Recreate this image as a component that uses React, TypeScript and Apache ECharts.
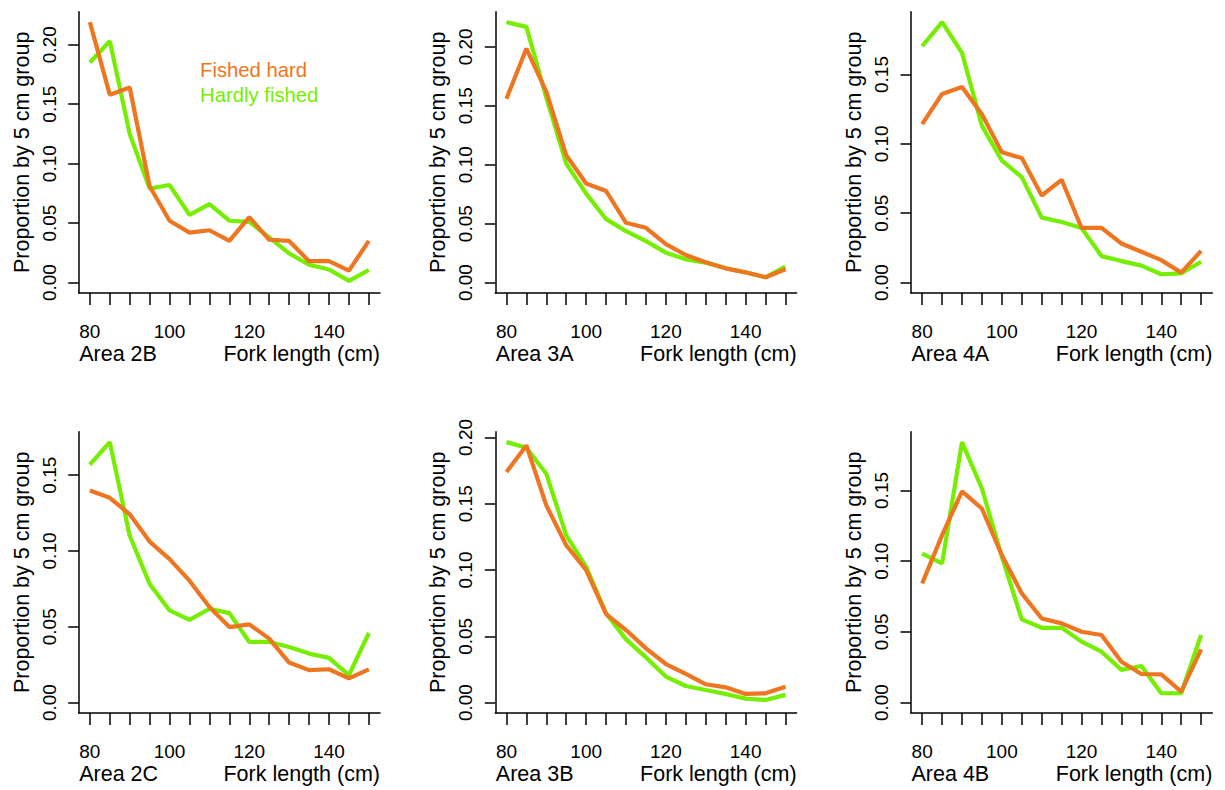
import React, { useEffect, useRef } from "react";
import * as echarts from "echarts";

const forkLengths = [80, 85, 90, 95, 100, 105, 110, 115, 120, 125, 130, 135, 140, 145, 150];
const xTickValues = [80, 85, 90, 95, 100, 105, 110, 115, 120, 125, 130, 135, 140, 145, 150];
const xLabelValues = [80, 100, 120, 140];
const yTicksHigh = [0, 0.05, 0.1, 0.15, 0.2];
const yTicksLow = [0, 0.05, 0.1, 0.15];

const areaNames = ["Area 2B", "Area 3A", "Area 4A", "Area 2C", "Area 3B", "Area 4B"];

const fishedHard2B = [0.219, 0.158, 0.164, 0.081, 0.052, 0.042, 0.044, 0.035, 0.055, 0.036, 0.035, 0.018, 0.018, 0.010, 0.035];
const hardlyFished2B = [0.185, 0.203, 0.125, 0.079, 0.082, 0.057, 0.066, 0.052, 0.051, 0.038, 0.0245, 0.015, 0.011, 0.0014, 0.0106];

const fishedHard3A = [0.156, 0.1986, 0.162, 0.108, 0.084, 0.0777, 0.0507, 0.0465, 0.0327, 0.0234, 0.0172, 0.0121, 0.0087, 0.0045, 0.0113];
const hardlyFished3A = [0.221, 0.217, 0.157, 0.101, 0.0755, 0.0538, 0.0437, 0.0352, 0.0254, 0.0197, 0.0169, 0.0121, 0.0085, 0.0045, 0.0135];

const fishedHard4A = [0.1142, 0.136, 0.141, 0.1214, 0.0939, 0.0898, 0.0628, 0.0741, 0.0394, 0.0394, 0.0282, 0.0222, 0.0162, 0.0072, 0.0229];
const hardlyFished4A = [0.1704, 0.1878, 0.1656, 0.113, 0.0879, 0.076, 0.0468, 0.0437, 0.0394, 0.0191, 0.0155, 0.0122, 0.006, 0.0067, 0.015];

const fishedHard2C = [0.1399, 0.1351, 0.1242, 0.1062, 0.0946, 0.0804, 0.063, 0.0498, 0.0516, 0.0422, 0.0264, 0.0214, 0.022, 0.016, 0.0219];
const hardlyFished2C = [0.157, 0.1718, 0.11, 0.0783, 0.0608, 0.0546, 0.0619, 0.059, 0.04, 0.04, 0.0367, 0.0323, 0.0295, 0.0181, 0.0459];

const fishedHard3B = [0.1739, 0.194, 0.1488, 0.1187, 0.0999, 0.0668, 0.0547, 0.0409, 0.0291, 0.0216, 0.0138, 0.0115, 0.0065, 0.007, 0.012];
const hardlyFished3B = [0.1965, 0.1922, 0.1726, 0.1262, 0.1024, 0.0673, 0.0477, 0.0341, 0.0196, 0.0125, 0.0095, 0.0065, 0.003, 0.002, 0.0058];

const fishedHard4B = [0.0842, 0.1184, 0.1494, 0.1372, 0.1042, 0.0772, 0.0595, 0.056, 0.0501, 0.0478, 0.0289, 0.0202, 0.02, 0.0078, 0.0376];
const hardlyFished4B = [0.1054, 0.0984, 0.1842, 0.1513, 0.103, 0.0588, 0.0529, 0.0529, 0.0431, 0.036, 0.0231, 0.0259, 0.0066, 0.0066, 0.0478];

const fishedHardSeries = [fishedHard2B, fishedHard3A, fishedHard4A, fishedHard2C, fishedHard3B, fishedHard4B];
const hardlyFishedSeries = [hardlyFished2B, hardlyFished3A, hardlyFished4A, hardlyFished2C, hardlyFished3B, hardlyFished4B];
const yTickSets = [yTicksHigh, yTicksHigh, yTicksLow, yTicksLow, yTicksHigh, yTicksLow];

const ORANGE = "#EE7621";
const GREEN = "#76EE00";
const FONT = "Liberation Sans, Arial, Helvetica, sans-serif";

const colLefts = [78.7, 495.3, 911];
const rowTops = [11.7, 431.7];
const boxW = 301.3;
const boxH = 281.3;

export default function App() {
  const ref = useRef<HTMLDivElement>(null);
  useEffect(() => {
    if (!ref.current) return;
    const chart = echarts.init(ref.current, null, { renderer: "svg" });
    const grids: any[] = [];
    const xAxes: any[] = [];
    const yAxes: any[] = [];
    const series: any[] = [];
    const graphics: any[] = [];
    for (let i = 0; i < 6; i++) {
      const col = i % 3;
      const row = Math.floor(i / 3);
      const left = colLefts[col];
      const top = rowTops[row];
      grids.push({ left, top, width: boxW, height: boxH, containLabel: false });
      const xMin = forkLengths[0];
      const xMax = forkLengths[forkLengths.length - 1];
      const xPad = (xMax - xMin) * 0.04;
      xAxes.push({
        type: "value",
        gridIndex: i,
        min: xMin - xPad,
        max: xMax + xPad,
        position: "bottom",
        axisLine: { show: true, onZero: false, lineStyle: { color: "#000", width: 1.5 } },
        axisTick: { show: true, length: 12, customValues: xTickValues, lineStyle: { color: "#000", width: 1.5 } },
        axisLabel: {
          show: true,
          customValues: xLabelValues,
          margin: 29,
          fontSize: 19,
          fontFamily: FONT,
          color: "#000",
        },
        splitLine: { show: false },
      });
      const all = fishedHardSeries[i].concat(hardlyFishedSeries[i]);
      const yMaxData = Math.max(...all);
      const yPad = yMaxData * 0.04;
      yAxes.push({
        type: "value",
        gridIndex: i,
        min: -yPad,
        max: yMaxData + yPad,
        axisLine: { show: true, onZero: false, lineStyle: { color: "#000", width: 1.5 } },
        axisTick: { show: true, length: 10.5, customValues: yTickSets[i], lineStyle: { color: "#000", width: 1.5 } },
        axisLabel: {
          show: true,
          customValues: yTickSets[i],
          rotate: 90,
          margin: 20,
          fontSize: 19,
          fontFamily: FONT,
          color: "#000",
          formatter: (v: number) => v.toFixed(2),
        },
        splitLine: { show: false },
        name: "Proportion by 5 cm group",
        nameLocation: "middle",
        nameRotate: 90,
        nameGap: 46,
        nameTextStyle: { fontSize: 21.5, fontFamily: FONT, color: "#000" },
      });
      series.push({
        type: "line",
        name: "Hardly fished",
        xAxisIndex: i,
        yAxisIndex: i,
        data: forkLengths.map((x, k) => [x, hardlyFishedSeries[i][k]]),
        showSymbol: false,
        lineStyle: { color: GREEN, width: 4.2 },
        itemStyle: { color: GREEN },
        silent: true,
      });
      series.push({
        type: "line",
        name: "Fished hard",
        xAxisIndex: i,
        yAxisIndex: i,
        data: forkLengths.map((x, k) => [x, fishedHardSeries[i][k]]),
        showSymbol: false,
        lineStyle: { color: ORANGE, width: 4.2 },
        itemStyle: { color: ORANGE },
        silent: true,
      });
      const textY = top + 342.3;
      graphics.push({
        type: "text",
        x: left + 0.5,
        y: textY,
        style: { text: areaNames[i], fontSize: 21.5, fontFamily: FONT, fill: "#000", textAlign: "left", textVerticalAlign: "middle" },
      });
      graphics.push({
        type: "text",
        x: left + boxW,
        y: textY,
        style: { text: "Fork length (cm)", fontSize: 21.5, fontFamily: FONT, fill: "#000", textAlign: "right", textVerticalAlign: "middle" },
      });
    }
    graphics.push({
      type: "text",
      x: 200,
      y: 70,
      style: { text: "Fished hard", fontSize: 20.3, fontFamily: FONT, fill: ORANGE, textAlign: "left", textVerticalAlign: "middle" },
    });
    graphics.push({
      type: "text",
      x: 200,
      y: 94.5,
      style: { text: "Hardly fished", fontSize: 20.3, fontFamily: FONT, fill: GREEN, textAlign: "left", textVerticalAlign: "middle" },
    });
    chart.setOption({
      animation: false,
      backgroundColor: "#fff",
      grid: grids,
      xAxis: xAxes,
      yAxis: yAxes,
      series,
      graphic: graphics,
    });
    return () => chart.dispose();
  }, []);
  return <div ref={ref} style={{ position: "fixed", left: 0, top: 0, width: 1225, height: 790 }} />;
}
